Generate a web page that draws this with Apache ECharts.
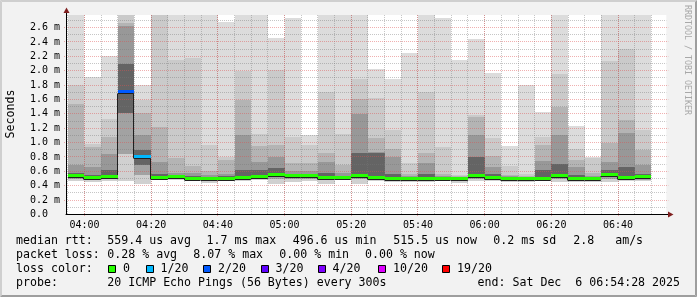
<!DOCTYPE html>
<html><head><meta charset="utf-8">
<script src="https://cdn.jsdelivr.net/npm/echarts@6/dist/echarts.min.js"></script>
<style>html,body{margin:0;padding:0;background:#f2f2f2}#c{width:697px;height:297px}</style>
</head><body><div id="c"></div>
<script>
// ---------------- data (milliseconds) ----------------
const windowStart = '03:54:28';
const windowEnd = '06:54:28';
const stepMinutes = 5;
const barEnds = ['04:00','04:05','04:10','04:15','04:20','04:25','04:30','04:35','04:40','04:45','04:50','04:55',
  '05:00','05:05','05:10','05:15','05:20','05:25','05:30','05:35','05:40','05:45','05:50','05:55',
  '06:00','06:05','06:10','06:15','06:20','06:25','06:30','06:35','06:40','06:45','06:50'];
const pingMin = [0.47,0.455,0.47,0.47,0.43,0.475,0.475,0.46,0.445,0.46,0.47,0.48,0.43,0.455,0.47,0.43,0.475,0.42,
  0.46,0.455,0.455,0.45,0.46,0.44,0.46,0.47,0.45,0.455,0.46,0.45,0.455,0.455,0.455,0.46,0.46];
const pingLo2 = [0.50,0.48,0.49,0.84,0.55,0.49,0.49,0.475,0.465,0.475,0.485,0.495,0.49,0.49,0.50,0.475,0.49,0.49,
  0.48,0.47,0.47,0.47,0.475,0.465,0.49,0.485,0.47,0.47,0.475,0.49,0.47,0.47,0.495,0.485,0.48];
const pingLo1 = [0.52,0.495,0.50,1.41,0.69,0.50,0.505,0.49,0.485,0.49,0.50,0.51,0.52,0.51,0.52,0.50,0.50,0.51,
  0.495,0.485,0.485,0.485,0.49,0.483,0.51,0.50,0.483,0.485,0.49,0.51,0.485,0.483,0.52,0.50,0.50];
const medianRtt = [0.54,0.51,0.515,1.71,0.80,0.51,0.515,0.50,0.498,0.50,0.51,0.525,0.55,0.54,0.535,0.51,0.51,0.54,
  0.505,0.50,0.50,0.499,0.50,0.497,0.54,0.51,0.497,0.498,0.50,0.53,0.50,0.497,0.55,0.51,0.515];
const pingU1 = [0.58,0.55,0.62,2.10,0.90,0.57,0.54,0.535,0.52,0.53,0.62,0.62,0.64,0.565,0.565,0.58,0.54,0.85,
  0.85,0.57,0.51,0.57,0.515,0.505,0.80,0.57,0.51,0.505,0.62,0.70,0.55,0.52,0.62,0.66,0.57];
const pingU2 = [0.69,0.66,0.84,2.62,1.10,0.73,0.58,0.58,0.55,0.57,1.11,0.73,0.80,0.60,0.60,0.73,0.58,1.40,
  0.87,0.80,0.53,0.72,0.53,0.515,1.10,0.66,0.53,0.52,0.75,1.11,0.66,0.54,0.73,1.13,0.69];
const pingU3 = [1.54,0.94,1.08,2.66,1.41,1.22,0.78,0.67,0.60,0.76,1.59,0.95,0.97,0.71,0.71,0.85,0.69,1.60,
  1.06,0.91,0.56,0.85,0.56,0.53,1.36,0.82,0.55,0.54,0.97,1.49,0.76,0.58,1.00,1.32,0.90];
const pingU4 = [1.80,0.98,1.33,2.80,1.59,2.85,2.15,2.17,0.97,0.80,1.99,1.12,2.01,1.08,0.97,1.71,1.12,1.89,
  1.62,1.17,0.71,1.71,0.945,0.55,1.38,1.06,0.67,0.57,1.08,1.96,0.91,0.78,2.14,2.30,1.17];
const pingMax = [2.96,1.91,2.21,3.05,1.80,2.92,2.98,2.94,3.10,2.68,2.93,2.99,2.45,2.74,1.11,2.95,3.02,2.91,
  2.02,1.89,2.25,2.97,2.73,2.15,2.44,1.97,0.955,1.80,1.43,3.04,1.23,0.80,2.96,2.93,2.90];
const lossCount = [0,0,0,2,1,0,0,0,0,0,0,0,0,0,0,0,0,0,0,0,0,0,0,0,0,0,0,0,0,0,0,0,0,0,0];

const xTickLabels = ['04:00','04:20','04:40','05:00','05:20','05:40','06:00','06:20','06:40'];
const yTickValues = [0,0.2,0.4,0.6,0.8,1.0,1.2,1.4,1.6,1.8,2.0,2.2,2.4,2.6];
const yMax = 2.775;

const lossSteps = [0,1,2,3,4,10,19];
const lossLabels = ['0','1/20','2/20','3/20','4/20','10/20','19/20'];
const lossColors = ['#26ff00','#00b8ff','#0059ff','#5e00ff','#7e00ff','#dd00ff','#ff0000'];

const statsLine = ['median rtt:','559.4 us avg','1.7 ms max','496.6 us min','515.5 us now','0.2 ms sd','2.8   am/s'];
const lossLine = ['packet loss:','0.28 % avg','8.07 % max','0.00 % min','0.00 % now'];
const probeLine = ['probe:','20 ICMP Echo Pings (56 Bytes) every 300s'];
const endText = 'end: Sat Dec  6 06:54:28 2025';
const yTitle = 'Seconds';
const sideText = 'RRDTOOL / TOBI OETIKER';

// ---------------- layout / style ----------------
const statsX = [16,107.3,206.5,292.7,393.3,493.3,573.3];
const lossX = [16,107.3,193.3,279.3,365];
const probeX = [16,107.3];
const boxX = [108,145.5,203,260.5,317.5,378,442];
const MONO = '"DejaVu Sans Mono", monospace';
const legendFont = '11.6px ' + MONO;
const SMOKE = ['#d0d0d0','#a2a2a2','#646464','#646464','#989898','#b4b4b4','#cacaca','#dcdcdc'];

function toMin(s){ const p = s.split(':').map(Number); return p[0]*60 + p[1] + (p[2]||0)/60; }
function fmtTime(v){ const t = Math.round(v); const h = Math.floor(t/60), m = t%60; return (h<10?'0':'')+h+':'+(m<10?'0':'')+m; }
function lossColor(n){ let c = lossColors[0]; lossSteps.forEach((s,k)=>{ if (n>=s) c = lossColors[k]; }); return c; }

const xStart = toMin(windowStart), xEnd = toMin(windowEnd);
const smokeData = barEnds.map((e,i)=>{
  const end = toMin(e), start = Math.max(end - stepMinutes, xStart);
  return [start, end, pingMin[i], pingLo2[i], pingLo1[i], medianRtt[i], pingU1[i], pingU2[i], pingU3[i], pingU4[i], pingMax[i]];
});
const medData = barEnds.map((e,i)=>{
  const end = toMin(e), start = Math.max(end - stepMinutes, xStart);
  const nxt = i < barEnds.length-1 ? medianRtt[i+1] : medianRtt[i];
  return [start, end, medianRtt[i], lossCount[i], nxt];
});

function clampY(y, cs){ return Math.round(Math.min(Math.max(y, cs.y), cs.y + cs.height)); }

function renderSmoke(params, api){
  const cs = params.coordSys;
  const t0 = api.value(0), t1 = api.value(1);
  const x0 = Math.round(api.coord([t0,0])[0]), x1 = Math.round(api.coord([t1,0])[0]);
  const ch = [];
  for (let k=0;k<8;k++){
    const ya = clampY(api.coord([t0, api.value(2+k)])[1], cs);
    const yb = clampY(api.coord([t0, api.value(3+k)])[1], cs);
    if (ya - yb <= 0) continue;
    ch.push({type:'rect', shape:{x:x0, y:yb, width:x1-x0, height:ya-yb}, style:{fill:SMOKE[k]}});
  }
  return {type:'group', children:ch};
}

function renderGrid(params, api){
  const cs = params.coordSys;
  const L = cs.x, R = cs.x + cs.width, T = cs.y, B = cs.y + cs.height;
  const ch = [];
  const minorC = 'rgba(120,120,120,0.42)', majorC = 'rgba(222,80,80,0.45)';
  const h = (v,c,ext)=>{ const y = Math.floor(api.coord([xStart, v])[1]) + 0.5;
    ch.push({type:'line', shape:{x1:L-ext, y1:y, x2:R+ext, y2:y}, style:{stroke:c, lineWidth:1, lineDash:[1,1]}}); };
  const vl = (t,c,ext)=>{ const x = Math.floor(api.coord([t, 0])[0]) + 0.5;
    ch.push({type:'line', shape:{x1:x, y1:T, x2:x, y2:B+ext}, style:{stroke:c, lineWidth:1, lineDash:[1,1]}}); };
  yTickValues.forEach(v => { if (v + 0.1 < yMax) h(v + 0.1, minorC, 0); });
  barEnds.forEach(e => vl(toMin(e), minorC, 0));
  vl(toMin(barEnds[0]) - stepMinutes, minorC, 0);
  yTickValues.forEach(v => { if (v > 0) h(v, majorC, 2); });
  xTickLabels.forEach(l => vl(toMin(l), majorC, 2));
  return {type:'group', children:ch};
}

function renderMedLine(params, api){
  const x0 = Math.round(api.coord([api.value(0),0])[0]), x1 = Math.round(api.coord([api.value(1),0])[0]);
  const y = Math.round(api.coord([api.value(0), api.value(2)])[1]) + 1.5;
  const yn = Math.round(api.coord([api.value(0), api.value(4)])[1]) + 1.5;
  return {type:'polyline', shape:{points:[[x0,y],[x1-0.5,y],[x1-0.5,yn]]}, style:{stroke:'#202020', lineWidth:1, fill:null}};
}
function renderLoss(params, api){
  const x0 = Math.round(api.coord([api.value(0),0])[0]), x1 = Math.round(api.coord([api.value(1),0])[0]);
  const y = Math.round(api.coord([api.value(0), api.value(2)])[1]);
  return {type:'rect', shape:{x:x0, y:y-2, width:x1-x0, height:3}, style:{fill:lossColor(api.value(3))}};
}

// ---------------- graphics (frame, texts, arrows) ----------------
const g = [];
g.push({type:'polygon', shape:{points:[[0,0],[697,0],[695,2],[2,2]]}, style:{fill:'#cfcfcf'}, z:-1});
g.push({type:'polygon', shape:{points:[[0,0],[2,2],[2,295],[0,297]]}, style:{fill:'#cfcfcf'}, z:-1});
g.push({type:'polygon', shape:{points:[[0,297],[2,295],[695,295],[697,297]]}, style:{fill:'#9e9e9e'}, z:-1});
g.push({type:'polygon', shape:{points:[[697,0],[697,297],[695,295],[695,2]]}, style:{fill:'#9e9e9e'}, z:-1});
// axis arrows
g.push({type:'line', shape:{x1:66.5,y1:11,x2:66.5,y2:15}, style:{stroke:'#000',lineWidth:1}, z:50});
g.push({type:'polygon', shape:{points:[[63.5,13],[69.5,13],[66.5,7.5]]}, style:{fill:'#7f1f1f'}, z:50});
g.push({type:'line', shape:{x1:666,y1:214.5,x2:669,y2:214.5}, style:{stroke:'#000',lineWidth:1}, z:50});
g.push({type:'polygon', shape:{points:[[668,211.5],[668,217.5],[673.5,214.5]]}, style:{fill:'#7f1f1f'}, z:50});
function txt(x,y,s,opts){ return {type:'text', x:x, y:y, style:Object.assign({text:s, font:legendFont, fill:'#000', textAlign:'left', textVerticalAlign:'middle'}, opts||{}), z:50}; }
statsLine.forEach((s,i)=>g.push(txt(statsX[i],241,s)));
lossLine.forEach((s,i)=>g.push(txt(lossX[i],255,s)));
g.push(txt(16,269,'loss color:'));
lossLabels.forEach((s,i)=>{
  g.push({type:'rect', shape:{x:Math.round(boxX[i])+0.5, y:265.5, width:7, height:7}, style:{fill:lossColors[i], stroke:'#000', lineWidth:1}, z:50});
  g.push(txt(boxX[i]+15,269,s));
});
probeLine.forEach((s,i)=>g.push(txt(probeX[i],283,s)));
g.push(txt(680,283,endText,{textAlign:'right'}));
g.push({type:'text', x:10.5, y:114, rotation:Math.PI/2, style:{text:yTitle, font:legendFont, fill:'#000', textAlign:'center', textVerticalAlign:'middle'}, z:50});
g.push({type:'text', x:687.5, y:5, rotation:-Math.PI/2, style:{text:sideText, font:'8.3px '+MONO, fill:'#a8a8a8', textAlign:'left', textVerticalAlign:'middle'}, z:50});

const chart = echarts.init(document.getElementById('c'), null, {renderer:'canvas'});
chart.setOption({
  animation:false,
  backgroundColor:'#f2f2f2',
  grid:{left:66, right:30.7, top:15, height:199.5, show:true, backgroundColor:'#ffffff', borderWidth:0},
  xAxis:{type:'value', min:xStart, max:xEnd, splitNumber:9, z:10,
    axisLine:{show:true, onZero:false, lineStyle:{color:'#000', width:1}},
    axisTick:{show:false}, splitLine:{show:false},
    axisLabel:{customValues:xTickLabels.map(toMin), formatter:fmtTime, margin:6, fontFamily:MONO, fontSize:10, color:'#000'}},
  yAxis:{type:'value', min:0, max:yMax, interval:0.2, z:10,
    axisLine:{show:true, onZero:false, lineStyle:{color:'#000', width:1}},
    axisTick:{show:false}, splitLine:{show:false},
    axisLabel:{customValues:yTickValues, formatter:v => v===0 ? '0.0  ' : v.toFixed(1)+' m', margin:6, fontFamily:MONO, fontSize:10, color:'#000'}},
  graphic:g,
  series:[
    {type:'custom', name:'smoke', renderItem:renderSmoke, data:smokeData, z:2, silent:true},
    {type:'custom', name:'grid', renderItem:renderGrid, data:[[xStart,0]], z:3, silent:true},
    {type:'custom', name:'median', renderItem:renderMedLine, data:medData, z:4, silent:true},
    {type:'custom', name:'loss', renderItem:renderLoss, data:medData, z:5, silent:true}
  ]
});
</script></body></html>
